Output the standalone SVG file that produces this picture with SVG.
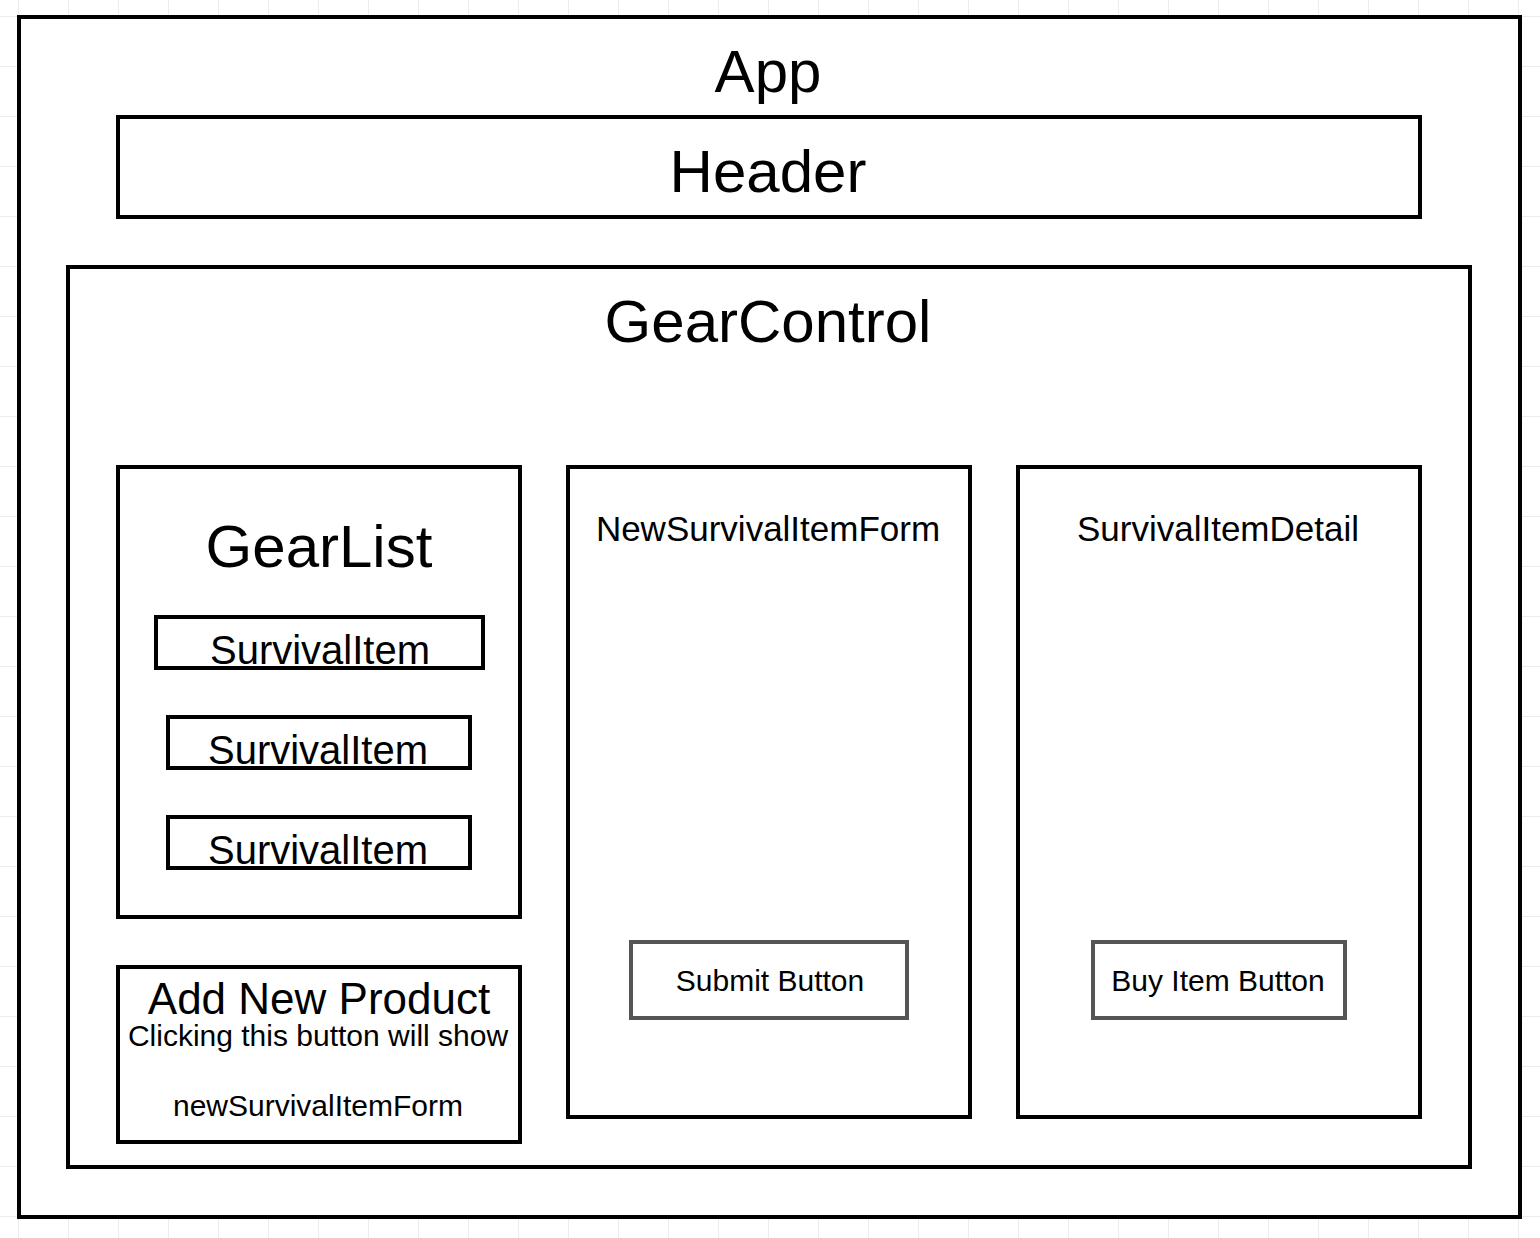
<svg xmlns="http://www.w3.org/2000/svg" width="1540" height="1238" viewBox="0 0 1540 1238">
<defs>
<pattern id="grid" x="18" y="16" width="50" height="50" patternUnits="userSpaceOnUse">
<path d="M0 0H50M0 0V50" fill="none" stroke="#e6e6e6" stroke-width="1.5"/>
</pattern>
<style>
.box{fill:#fff;stroke:#000;stroke-width:4}
.btn{fill:#fff;stroke:#555;stroke-width:4}
text{font-family:"Liberation Sans",Arial,sans-serif;fill:#000;text-anchor:middle}
.xl{font-size:60px}
.it{font-size:40px}
.md{font-size:35px}
.sm{font-size:30px}
</style>
</defs>
<rect width="1540" height="1238" fill="#fff"/>
<rect width="1540" height="1238" fill="url(#grid)"/>
<g id="App"><rect class="box" x="19" y="17" width="1501" height="1200"/><text class="xl" x="768" y="92">App</text></g>
<g id="Header"><rect class="box" x="118" y="117" width="1302" height="100"/><text class="xl" x="768" y="192">Header</text></g>
<g id="GearControl"><rect class="box" x="68" y="267" width="1402" height="900"/><text class="xl" x="768" y="342">GearControl</text></g>
<g id="GearList"><rect class="box" x="118" y="467" width="402" height="450"/><text class="xl" x="319" y="567">GearList</text></g>
<g id="SurvivalItem1"><rect class="box" x="156" y="617" width="327" height="51"/><text class="it" x="320" y="664">SurvivalItem</text></g>
<g id="SurvivalItem2"><rect class="box" x="168" y="717" width="302" height="51"/><text class="it" x="318" y="764">SurvivalItem</text></g>
<g id="SurvivalItem3"><rect class="box" x="168" y="817" width="302" height="51"/><text class="it" x="318" y="864">SurvivalItem</text></g>
<g id="AddNewProduct"><rect class="box" x="118" y="967" width="402" height="175"/><text x="319" y="1014" style="font-size:44px">Add New Product</text><text class="sm" x="318" y="1046">Clicking this button will show</text><text class="sm" x="318" y="1116">newSurvivalItemForm</text></g>
<g id="NewSurvivalItemForm"><rect class="box" x="568" y="467" width="402" height="650"/><text class="md" x="768" y="541">NewSurvivalItemForm</text></g>
<g id="SurvivalItemDetail"><rect class="box" x="1018" y="467" width="402" height="650"/><text class="md" x="1218" y="541">SurvivalItemDetail</text></g>
<g id="SubmitButton"><rect class="btn" x="631" y="942" width="276" height="76"/><text class="sm" x="770" y="991">Submit Button</text></g>
<g id="BuyItemButton"><rect class="btn" x="1093" y="942" width="252" height="76"/><text class="sm" x="1218" y="991">Buy Item Button</text></g>
<g id="connectors"/>
</svg>
